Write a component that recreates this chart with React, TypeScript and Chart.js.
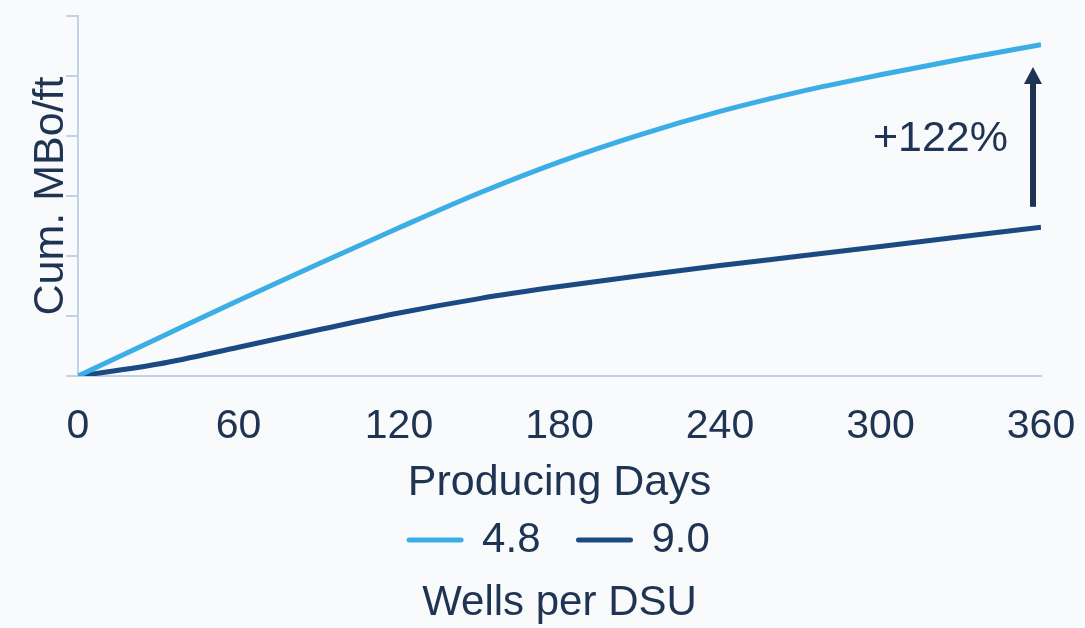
import { useEffect, useRef } from "react";
import { Chart, registerables } from "chart.js";

Chart.register(...registerables);

// ---- data ----
const days = [0, 30, 60, 90, 120, 150, 180, 210, 240, 270, 300, 330, 360];
const wells48 = [0, 0.63, 1.26, 1.87, 2.47, 3.05, 3.57, 4.02, 4.41, 4.74, 5.02, 5.28, 5.52];
const wells90 = [0, 0.2, 0.48, 0.77, 1.05, 1.29, 1.49, 1.67, 1.84, 2.0, 2.16, 2.32, 2.48];
const seriesNames = ["4.8", "9.0"];
const xTickValues = [0, 60, 120, 180, 240, 300, 360];
const yTickValues = [0, 1, 2, 3, 4, 5, 6];
const xTitle = "Producing Days";
const yTitle = "Cum. MBo/ft";
const legendTitle = "Wells per DSU";
const upliftLabel = "+122%";
const upliftArrowDay = 357;
const upliftArrowFrom = 2.82;
const upliftArrowTo = 5.15;
const upliftLabelDay = 322.4;
const upliftLabelValue = 3.95;

// ---- styles ----
const FAMILY = '"Liberation Sans", Arial, Helvetica, sans-serif';
const TEXT = "#1F3352";
const AXIS = "#C4D0E6";
const LIGHT = "#3BAEE6";
const DARK = "#1B4A82";
const BG = "#F8FAFC";

const upliftPlugin = {
  id: "uplift",
  afterDatasetsDraw(chart: any) {
    const { ctx, scales } = chart;
    const xs = scales.x;
    const ys = scales.y;
    const ax = xs.getPixelForValue(upliftArrowDay);
    const y0 = ys.getPixelForValue(upliftArrowFrom);
    const y1 = ys.getPixelForValue(upliftArrowTo);
    const headLen = 17;
    const headHalf = 9;
    ctx.save();
    ctx.strokeStyle = TEXT;
    ctx.fillStyle = TEXT;
    ctx.lineWidth = 6;
    ctx.beginPath();
    ctx.moveTo(ax, y0);
    ctx.lineTo(ax, y1 + headLen - 1);
    ctx.stroke();
    ctx.beginPath();
    ctx.moveTo(ax, y1);
    ctx.lineTo(ax - headHalf, y1 + headLen);
    ctx.lineTo(ax + headHalf, y1 + headLen);
    ctx.closePath();
    ctx.fill();
    ctx.font = `43px ${FAMILY}`;
    ctx.textAlign = "center";
    ctx.textBaseline = "middle";
    ctx.fillText(
      upliftLabel,
      xs.getPixelForValue(upliftLabelDay),
      ys.getPixelForValue(upliftLabelValue)
    );
    ctx.restore();
  },
};

export default function App() {
  const canvasRef = useRef<HTMLCanvasElement | null>(null);

  useEffect(() => {
    document.body.style.margin = "0";
    document.body.style.background = BG;
    const canvas = canvasRef.current;
    if (!canvas) return;
    const colors = [LIGHT, DARK];
    const chart = new Chart(canvas, {
      type: "line",
      data: {
        datasets: [wells48, wells90].map((vals, i) => ({
          label: seriesNames[i],
          data: days.map((d, j) => ({ x: d, y: vals[j] })),
          borderColor: colors[i],
          backgroundColor: colors[i],
          borderWidth: 5,
          pointRadius: 0,
          pointHoverRadius: 0,
          cubicInterpolationMode: "monotone",
          fill: false,
        })),
      },
      options: {
        animation: false,
        responsive: true,
        maintainAspectRatio: false,
        devicePixelRatio: 1,
        layout: { padding: { top: 16, right: 44, left: 0, bottom: 0 } },
        scales: {
          x: {
            type: "linear",
            min: 0,
            max: 360,
            afterBuildTicks: (scale: any) => {
              scale.ticks = xTickValues.map((v) => ({ value: v }));
            },
            grid: {
              display: true,
              drawOnChartArea: false,
              drawTicks: true,
              tickLength: 25.6,
              color: "rgba(0,0,0,0)",
            },
            border: { display: true, color: AXIS, width: 2 },
            ticks: {
              color: TEXT,
              font: { family: FAMILY, size: 41, lineHeight: 1.2 },
              padding: 0,
              maxRotation: 0,
              autoSkip: false,
            },
            title: {
              display: true,
              text: xTitle,
              color: TEXT,
              font: { family: FAMILY, size: 43, lineHeight: 1.2 },
              padding: { top: 6.4, bottom: -27.8 },
            },
          },
          y: {
            type: "linear",
            min: 0,
            max: 6,
            afterBuildTicks: (scale: any) => {
              scale.ticks = yTickValues.map((v) => ({ value: v }));
            },
            grid: {
              display: true,
              drawOnChartArea: false,
              drawTicks: true,
              tickLength: 12,
              color: AXIS,
              lineWidth: 2,
            },
            border: { display: true, color: AXIS, width: 2 },
            ticks: { display: false },
            title: {
              display: true,
              text: yTitle,
              color: TEXT,
              font: { family: FAMILY, size: 43, lineHeight: 1.2 },
              padding: { top: 25.5, bottom: -11.1 },
            },
          },
        },
        plugins: {
          legend: {
            display: true,
            position: "bottom",
            fullSize: false,
            align: "center",
            labels: {
              usePointStyle: true,
              pointStyleWidth: 52,
              boxWidth: 52,
              padding: 38,
              color: TEXT,
              font: { family: FAMILY, size: 42 },
              generateLabels: (ch: any) =>
                ch.data.datasets.map((ds: any, i: number) => ({
                  text: ds.label,
                  fillStyle: ds.borderColor,
                  strokeStyle: ds.borderColor,
                  lineWidth: 5,
                  lineCap: "round",
                  pointStyle: "line",
                  hidden: false,
                  datasetIndex: i,
                  fontColor: TEXT,
                })),
            },
          },
          title: {
            display: true,
            position: "bottom",
            fullSize: false,
            align: "center",
            text: legendTitle,
            color: TEXT,
            font: { family: FAMILY, size: 42, lineHeight: 1.2, weight: "normal" },
            padding: { top: 7.0, bottom: -0.4 },
          },
          tooltip: { enabled: false },
        },
      },
      plugins: [upliftPlugin],
    } as any);
    return () => chart.destroy();
  }, []);

  return (
    <div
      style={{
        position: "absolute",
        left: 0,
        top: 0,
        width: 1085,
        height: 628,
        background: BG,
      }}
    >
      <canvas ref={canvasRef} />
    </div>
  );
}
